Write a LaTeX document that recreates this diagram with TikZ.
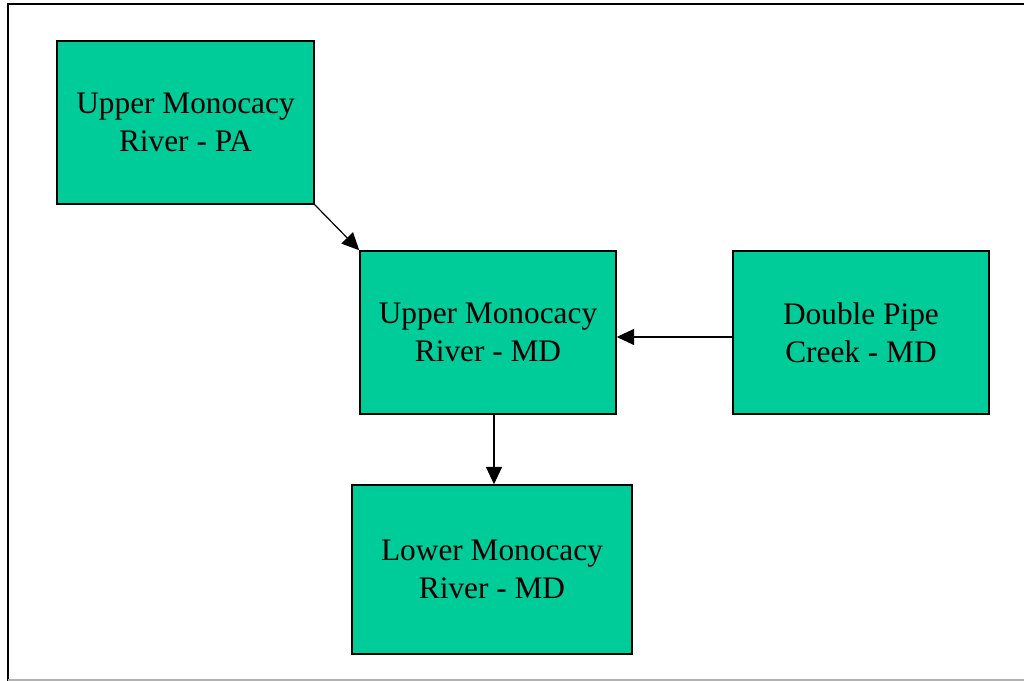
\documentclass[tikz,border=0pt]{standalone}
\usepackage{fontspec}
\setmainfont{Liberation Serif}
\usetikzlibrary{arrows.meta}
\definecolor{basin}{RGB}{0,204,153}

\begin{document}
\begin{tikzpicture}[x=0.75pt,y=-0.75pt]
% Define styles
\tikzstyle{watershed} = [rectangle, draw=black, line width=1.1pt, fill=basin, align=center, font=\fontsize{23.5}{28.5}\selectfont, inner sep=0pt]
\tikzstyle{arrow} = [line width=0.9pt,-{Triangle[length=13pt,width=12pt]}]

\useasboundingbox (0,0) rectangle (1024,681);
% Frame
\draw [line width=1.5pt] (8,681) -- (8,4) -- (1024,4);
\draw [gray!60, line width=1pt] (8,680) -- (1024,680);

% Draw nodes
\node (pa) [watershed, minimum width=192.75pt, minimum height=122.25pt] at (185.5,122.5) {Upper Monocacy\\River - PA};
\node (umd) [watershed, minimum width=192pt, minimum height=122.25pt] at (488,332.5) {Upper Monocacy\\River - MD};
\node (dpc) [watershed, minimum width=192pt, minimum height=122.25pt] at (861,332.5) {Double Pipe\\Creek - MD};
\node (lmd) [watershed, minimum width=210pt, minimum height=126.75pt] at (492,569.5) {Lower Monocacy\\River - MD};

% Draw arrows
\draw [arrow] (pa.south east) -- (umd.north west);
\draw [arrow] (dpc.west |- 0,337) -- (umd.east |- 0,337);
\draw [arrow] (umd.south -| 494,0) -- (lmd.north -| 494,0);

\end{tikzpicture}
\end{document}
